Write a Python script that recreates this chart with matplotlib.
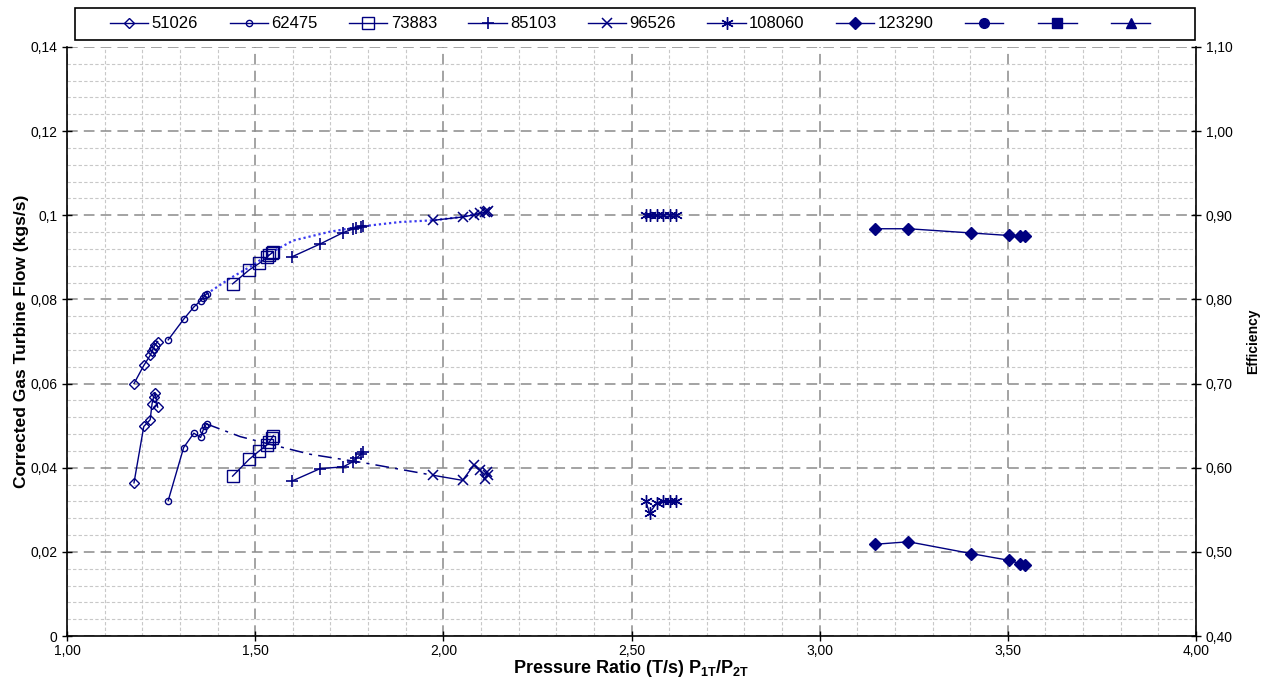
import numpy as np
import matplotlib.pyplot as plt
from matplotlib.ticker import MultipleLocator, FuncFormatter
from matplotlib.patches import Rectangle

plt.rcParams['font.family'] = ['Liberation Sans', 'DejaVu Sans']
plt.rcParams['mathtext.fontset'] = 'custom'
plt.rcParams['mathtext.rm'] = 'Liberation Sans'
plt.rcParams['mathtext.bf'] = 'Liberation Sans:bold'

# vitesses (légende)
speeds = ['51026', '62475', '73883', '85103', '96526', '108060', '123290']

# rapport de pression / débit corrigé / rendement, par vitesse
pr_51026 = [1.178, 1.204, 1.221, 1.226, 1.230, 1.234, 1.241]
flow_51026 = [0.0600, 0.0643, 0.0667, 0.0677, 0.0685, 0.0692, 0.0700]
eff_51026 = [0.582, 0.649, 0.657, 0.676, 0.684, 0.689, 0.672]

pr_62475 = [1.269, 1.310, 1.337, 1.355, 1.362, 1.367, 1.371]
flow_62475 = [0.0704, 0.0753, 0.0782, 0.0797, 0.0804, 0.0810, 0.0813]
eff_62475 = [0.561, 0.624, 0.641, 0.636, 0.645, 0.650, 0.652]

pr_73883 = [1.440, 1.484, 1.511, 1.531, 1.538, 1.544, 1.548]
flow_73883 = [0.0837, 0.0870, 0.0886, 0.0900, 0.0906, 0.0910, 0.0912]
eff_73883 = [0.590, 0.610, 0.620, 0.627, 0.631, 0.635, 0.638]

pr_85103 = [1.597, 1.673, 1.734, 1.759, 1.768, 1.781, 1.787]
flow_85103 = [0.0901, 0.0932, 0.0959, 0.0967, 0.0970, 0.0973, 0.0975]
eff_85103 = [0.584, 0.599, 0.601, 0.607, 0.611, 0.616, 0.619]

pr_96526 = [1.973, 2.051, 2.081, 2.098, 2.111, 2.116, 2.120]
flow_96526 = [0.0988, 0.0996, 0.1001, 0.1005, 0.1007, 0.1008, 0.1009]
eff_96526 = [0.591, 0.585, 0.603, 0.597, 0.586, 0.595, 0.591]

pr_108060 = [2.538, 2.548, 2.567, 2.585, 2.602, 2.619]
flow_108060 = [0.1000, 0.1000, 0.1000, 0.1001, 0.1001, 0.1000]
eff_108060 = [0.560, 0.546, 0.558, 0.560, 0.560, 0.560]

pr_123290 = [3.147, 3.236, 3.402, 3.502, 3.533, 3.546]
flow_123290 = [0.0968, 0.0968, 0.0958, 0.0952, 0.0950, 0.0950]
eff_123290 = [0.509, 0.512, 0.498, 0.490, 0.486, 0.484]

# courbes de tendance
fit_flow_pr = [1.371, 1.433, 1.495, 1.539, 1.601, 1.699, 1.787, 1.885, 1.972, 2.049, 2.124]
fit_flow = [0.0813, 0.0850, 0.0882, 0.0910, 0.0940, 0.0961, 0.0974, 0.0984, 0.0988, 0.0996, 0.1010]
fit_eff_pr = [1.371, 1.460, 1.547, 1.646, 1.787, 1.973]
fit_eff = [0.652, 0.637, 0.627, 0.616, 0.606, 0.591]

pr = [pr_51026, pr_62475, pr_73883, pr_85103, pr_96526, pr_108060, pr_123290]
flow = [flow_51026, flow_62475, flow_73883, flow_85103, flow_96526, flow_108060, flow_123290]
eff = [eff_51026, eff_62475, eff_73883, eff_85103, eff_96526, eff_108060, eff_123290]

navy = '#000080'
styles = [
    dict(marker='D', ms=5, mfc='none'),
    dict(marker='o', ms=4.5, mfc='none'),
    dict(marker='s', ms=8, mfc='none'),
    dict(marker='+', ms=9, mew=1.2),
    dict(marker='x', ms=7, mew=1.1),
    dict(marker=(6, 2, 0), ms=9, mew=1.0),
    dict(marker='D', ms=6, mfc=navy),
]

fig = plt.figure(figsize=(12.72, 6.79), dpi=100)
ax = fig.add_axes([67/1272, 1-636/679, 1129/1272, 589/679])
ax2 = ax.twinx()

handles = []
for i in range(len(speeds)):
    st = styles[i]
    kw = dict(color=navy, lw=1.0, mec=navy, mew=st.get('mew', 1.0),
              marker=st['marker'], ms=st['ms'], mfc=st.get('mfc', navy))
    h, = ax.plot(pr[i], flow[i], zorder=3, **kw)
    ax2.plot(pr[i], eff[i], zorder=3, **kw)
    handles.append(h)

ax.plot(fit_flow_pr, fit_flow, color='#3a3af0', lw=1.6, ls=(0, (1, 1.3)), zorder=2)
ax2.plot(fit_eff_pr, fit_eff, color=navy, lw=1.1, ls=(0, (9, 4, 2, 4)), zorder=2)

# séries vides (légende)
for m in ['o', 's', '^']:
    h, = ax.plot([], [], color=navy, lw=1.0, marker=m, ms=7, mfc=navy, mec=navy)
    handles.append(h)
labels = speeds + ['', '', '']

ax.set_xlim(1, 4)
ax.set_ylim(0, 0.14)
ax2.set_ylim(0.4, 1.1)

ax.xaxis.set_major_locator(MultipleLocator(0.5))
ax.xaxis.set_minor_locator(MultipleLocator(0.1))
ax.yaxis.set_major_locator(MultipleLocator(0.02))
ax.yaxis.set_minor_locator(MultipleLocator(0.004))
ax2.yaxis.set_major_locator(MultipleLocator(0.1))

ax.xaxis.set_major_formatter(FuncFormatter(lambda v, p: '{:.2f}'.format(v).replace('.', ',')))
ax.yaxis.set_major_formatter(FuncFormatter(lambda v, p: '{:g}'.format(round(v, 4)).replace('.', ',')))
ax2.yaxis.set_major_formatter(FuncFormatter(lambda v, p: '{:.2f}'.format(v).replace('.', ',')))

ax.grid(which='major', color='#8a8a8a', lw=1.1, ls=(0, (7, 4)))
ax.grid(which='minor', color='#c8c8c8', lw=0.8, ls=(0, (3, 2)))
ax.set_axisbelow(True)

for a in (ax, ax2):
    a.spines['top'].set_visible(False)
    a.tick_params(which='major', direction='inout', length=7, width=1, labelsize=10, colors='black')
    a.tick_params(which='minor', length=0)
ax.spines['right'].set_visible(False)
ax2.spines['left'].set_visible(False)
ax2.spines['bottom'].set_visible(False)
ax2.spines['right'].set_linewidth(1.2)
ax.spines['left'].set_linewidth(1.2)
ax.spines['bottom'].set_linewidth(1.2)
ax.tick_params(axis='x', pad=2)

ax.set_xlabel(r'Pressure Ratio (T/s) $\mathbf{P_{1T}/P_{2T}}$', fontsize=13, fontweight='bold', labelpad=0)
ax.set_ylabel('Corrected Gas Turbine Flow (kgs/s)', fontsize=12.5, fontweight='bold', labelpad=1)
ax2.set_ylabel('Efficiency', fontsize=10, fontweight='bold', labelpad=10)

# cadre de la légende
fig.patches.append(Rectangle((75/1272, 1-40/679), 1120/1272, 32/679, transform=fig.transFigure,
                             fill=False, edgecolor='black', lw=1.2))
leg = fig.legend(handles, labels, loc='center left', mode='expand', ncol=10,
                 bbox_to_anchor=(110/1272, 1-40/679, 1043/1272, 32/679),
                 fontsize=12, frameon=False, handlelength=2.3, handletextpad=0.2,
                 borderpad=0, borderaxespad=0)

fig.savefig('out.png', dpi=100)
